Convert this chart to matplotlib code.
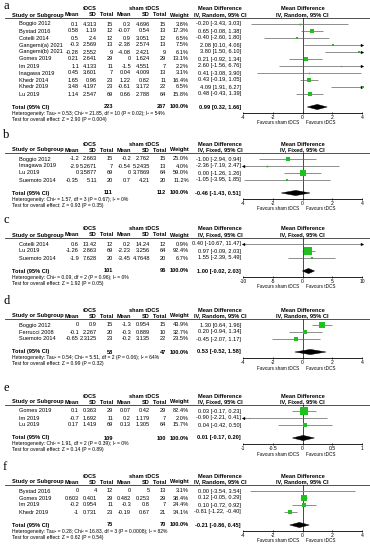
import matplotlib
matplotlib.use("Agg")
import matplotlib.pyplot as plt
from matplotlib.patches import Polygon
import math

plt.rcParams['font.family'] = ['Liberation Sans', 'DejaVu Sans']
plt.rcParams['axes.unicode_minus'] = False

W, H = 370, 550

# ---------------- data ----------------
a_studies = ["Boggio 2012", "Bystad 2016", "Cotelli 2014", "Gangemi(a) 2021", "Gangemi(b) 2021",
             "Gomes 2019", "Im 2019", "Inagawa 2019", "Khedr 2014", "Khedr 2019", "Lu 2019"]
a_mean_t = ["0.1", "0.58", "0.5", "-0.3", "-0.28", "0.21", "1.1", "0.45", "1.65", "3.48", "1.14"]
a_sd_t = ["4.313", "1.19", "2.4", "2.569", "2.552", "2.641", "4.133", "3.601", "0.96", "4.197", "2.547"]
a_n_t = [15, 12, 12, 13, 9, 29, 11, 7, 23, 23, 69]
a_mean_s = ["0.3", "-0.07", "0.9", "-2.38", "-4.08", "0", "-1.5", "0.04", "1.22", "-0.61", "0.66"]
a_sd_s = ["4.696", "0.54", "3.051", "2.574", "2.421", "1.624", "4.551", "4.009", "0.82", "3.172", "2.788"]
a_n_s = [15, 13, 12, 13, 9, 29, 7, 13, 11, 22, 64]
a_weight = [3.8, 17.3, 6.5, 7.5, 6.1, 13.1, 2.2, 3.1, 16.4, 6.5, 15.8]
a_md = [-0.20, 0.65, -0.40, 2.08, 3.80, 0.21, 2.60, 0.41, 0.43, 4.09, 0.48]
a_lo = [-3.43, -0.08, -2.60, 0.10, 1.50, -0.92, -1.56, -3.08, -0.19, 1.91, -0.43]
a_hi = [3.03, 1.38, 1.80, 4.06, 6.10, 1.34, 6.76, 3.90, 1.05, 6.27, 1.39]
a_total = [223, 267, 0.99, 0.32, 1.66]
a_het = "Heterogeneity: Tau² = 0.53; Chi² = 21.85, df = 10 (P = 0.02); I² = 54%"
a_test = "Test for overall effect: Z = 2.90 (P = 0.004)"
a_method = "IV, Random, 95% CI"
a_ticks = [-4, -2, 0, 2, 4]

b_studies = ["Boggio 2012", "Imagawa 2019", "Lu 2019", "Suemoto 2014"]
b_mean_t = ["-1.2", "-2.9", "0", "-0.35"]
b_sd_t = ["2.663", "5.2671", "3.5877", "5.11"]
b_n_t = [15, 7, 69, 20]
b_mean_s = ["-0.2", "-0.54", "0", "0.7"]
b_sd_s = ["2.762", "5.2435", "3.7869", "4.21"]
b_n_s = [15, 13, 64, 20]
b_weight = [25.0, 4.0, 59.0, 11.2]
b_md = [-1.00, -2.36, 0.00, -1.05]
b_lo = [-2.94, -7.19, -1.26, -3.95]
b_hi = [0.94, 2.47, 1.26, 1.85]
b_total = [111, 112, -0.46, -1.43, 0.51]
b_het = "Heterogeneity: Chi² = 1.57, df = 3 (P = 0.67); I² = 0%"
b_test = "Test for overall effect: Z = 0.93 (P = 0.35)"
b_method = "IV, Fixed, 95% CI"
b_ticks = [-4, -2, 0, 2, 4]

c_studies = ["Cotelli 2014", "Lu 2019", "Suemoto 2014"]
c_mean_t = ["0.6", "-1.26", "-1.9"]
c_sd_t = ["13.42", "2.863", "7.628"]
c_n_t = [12, 69, 20]
c_mean_s = ["0.2", "-2.23", "-3.45"]
c_sd_s = ["14.24", "3.256", "4.7648"]
c_n_s = [12, 64, 20]
c_weight = [0.9, 92.4, 6.7]
c_md = [0.40, 0.97, 1.55]
c_lo = [-10.67, -0.09, -2.39]
c_hi = [11.47, 2.03, 5.49]
c_total = [101, 96, 1.00, -0.02, 2.03]
c_het = "Heterogeneity: Chi² = 0.09, df = 2 (P = 0.96); I² = 0%"
c_test = "Test for overall effect: Z = 1.92 (P = 0.05)"
c_method = "IV, Fixed, 95% CI"
c_ticks = [-10, -5, 0, 5, 10]

d_studies = ["Boggio 2012", "Ferrucci 2008", "Suemoto 2014"]
d_mean_t = ["0", "-0.1", "-0.65"]
d_sd_t = ["0.9", "2.267", "2.3125"]
d_n_t = [15, 20, 23]
d_mean_s = ["-1.3", "-0.3", "-0.2"]
d_sd_s = ["0.954", "0.889", "3.135"]
d_n_s = [15, 10, 22]
d_weight = [43.9, 32.7, 23.5]
d_md = [1.30, 0.20, -0.45]
d_lo = [0.64, -0.94, -2.07]
d_hi = [1.96, 1.34, 1.17]
d_total = [58, 47, 0.53, -0.52, 1.58]
d_het = "Heterogeneity: Tau² = 0.54; Chi² = 5.51, df = 2 (P = 0.06); I² = 64%"
d_test = "Test for overall effect: Z = 0.99 (P = 0.32)"
d_method = "IV, Random, 95% CI"
d_ticks = [-4, -2, 0, 2, 4]

e_studies = ["Gomes 2019", "Im 2019", "Lu 2019"]
e_mean_t = ["0.1", "-0.7", "0.17"]
e_sd_t = ["0.363", "1.692", "1.419"]
e_n_t = [29, 11, 69]
e_mean_s = ["0.07", "0.2", "0.13"]
e_sd_s = ["0.42", "1.179", "1.305"]
e_n_s = [29, 7, 64]
e_weight = [82.4, 2.0, 15.7]
e_md = [0.03, -0.90, 0.04]
e_lo = [-0.17, -2.21, -0.42]
e_hi = [0.23, 0.41, 0.50]
e_total = [109, 100, 0.01, -0.17, 0.20]
e_het = "Heterogeneity: Chi² = 1.91, df = 2 (P = 0.39); I² = 0%"
e_test = "Test for overall effect: Z = 0.14 (P = 0.89)"
e_method = "IV, Fixed, 95% CI"
e_ticks = [-1, -0.5, 0, 0.5, 1]

f_studies = ["Bystad 2016", "Gomes 2019", "Im 2019", "Khedr 2019"]
f_mean_t = ["0", "0.603", "-0.2", "-1"]
f_sd_t = ["4", "0.401", "0.954", "0.731"]
f_n_t = [12, 29, 11, 23]
f_mean_s = ["0", "0.482", "-0.3", "-0.19"]
f_sd_s = ["5", "0.253", "0.8", "0.67"]
f_n_s = [13, 29, 7, 21]
f_weight = [3.1, 38.4, 24.4, 34.1]
f_md = [0.00, 0.12, 0.10, -0.81]
f_lo = [-3.54, -0.05, -0.72, -1.22]
f_hi = [3.54, 0.29, 0.92, -0.40]
f_total = [75, 70, -0.21, -0.86, 0.45]
f_het = "Heterogeneity: Tau² = 0.28; Chi² = 16.83, df = 3 (P = 0.0008); I² = 82%"
f_test = "Test for overall effect: Z = 0.62 (P = 0.54)"
f_method = "IV, Random, 95% CI"
f_ticks = [-4, -2, 0, 2, 4]

panel_labels = ["a", "b", "c", "d", "e", "f"]

g = globals()
panels = []
for k in panel_labels:
    panels.append(dict(
        label=k, studies=g[k + "_studies"], mean_t=g[k + "_mean_t"], sd_t=g[k + "_sd_t"],
        n_t=g[k + "_n_t"], mean_s=g[k + "_mean_s"], sd_s=g[k + "_sd_s"], n_s=g[k + "_n_s"],
        weight=g[k + "_weight"], md=g[k + "_md"], lo=g[k + "_lo"], hi=g[k + "_hi"],
        total=g[k + "_total"], het=g[k + "_het"], test=g[k + "_test"],
        method=g[k + "_method"], ticks=g[k + "_ticks"]))

# ---------------- layout (pixels) ----------------
tops = [5, 140, 225, 306, 392, 472]
label_ys = [6, 135, 220, 301, 388, 467]
ROW = 7
FS = 4.1      # table text size (pt)
FSS = 3.6     # footnote size
FSF = 3.3     # favours labels
X_NAME, X_HEAD = 19, 12
X_COLS = [79, 97, 113, 131, 150, 166, 189]
X_CI = 241
PX0, PX1 = 243, 362
GREEN = '#1fc01f'

fig = plt.figure(figsize=(W / 100, H / 100), dpi=100)
tx = fig.add_axes([0, 0, 1, 1])
tx.set_xlim(0, W)
tx.set_ylim(H, 0)
tx.axis('off')


def fmt_ci(m, l, h):
    return f"{m:.2f} [{l:.2f}, {h:.2f}]"


for p, T, ly in zip(panels, tops, label_ys):
    n = len(p['studies'])
    h1, h2, line = T + 4, T + 10, T + 13
    rows = [T + 19 + ROW * i for i in range(n)]
    tot = rows[-1] + 13
    het_y, test_y = tot + 6, tot + 12
    axis_y = tot + 6
    fav_y = tot + 16
    lo, hi = p['ticks'][0], p['ticks'][-1]
    zero_px = PX0 + (PX1 - PX0) * (0 - lo) / (hi - lo)

    tx.text(3, ly, p['label'], fontsize=9, family=['Liberation Serif', 'DejaVu Serif'],
            va='center', ha='left')
    # headers
    tx.text(90, h1, "tDCS", fontsize=FS, weight='bold', ha='center', va='center')
    tx.text(144, h1, "sham tDCS", fontsize=FS, weight='bold', ha='center', va='center')
    tx.text(220, h1, "Mean Difference", fontsize=FS, weight='bold', ha='center', va='center')
    tx.text(220, h2, p['method'], fontsize=FS, weight='bold', ha='center', va='center')
    tx.text(zero_px, h1, "Mean Difference", fontsize=FS, weight='bold', ha='center', va='center')
    tx.text(zero_px, h2, p['method'], fontsize=FS, weight='bold', ha='center', va='center')
    tx.text(X_HEAD, h2, "Study or Subgroup", fontsize=FS, weight='bold', ha='left', va='center')
    for x, s in zip(X_COLS, ["Mean", "SD", "Total", "Mean", "SD", "Total", "Weight"]):
        tx.text(x, h2, s, fontsize=FS, weight='bold', ha='right', va='center')
    tx.plot([5, W], [line, line], color='#333333', lw=0.6)

    for i, y in enumerate(rows):
        tx.text(X_NAME, y, p['studies'][i], fontsize=FS, ha='left', va='center')
        vals = [p['mean_t'][i], p['sd_t'][i], str(p['n_t'][i]), p['mean_s'][i], p['sd_s'][i],
                str(p['n_s'][i]), f"{p['weight'][i]:.1f}%"]
        for x, s in zip(X_COLS, vals):
            tx.text(x, y, s, fontsize=FS, ha='right', va='center')
        tx.text(X_CI, y, fmt_ci(p['md'][i], p['lo'][i], p['hi'][i]), fontsize=FS,
                ha='right', va='center')

    nt, ns, tm, tl, th = p['total']
    tx.text(X_HEAD, tot, "Total (95% CI)", fontsize=FS, weight='bold', ha='left', va='center')
    tx.text(X_COLS[2], tot, str(nt), fontsize=FS, weight='bold', ha='right', va='center')
    tx.text(X_COLS[5], tot, str(ns), fontsize=FS, weight='bold', ha='right', va='center')
    tx.text(X_COLS[6], tot, "100.0%", fontsize=FS, weight='bold', ha='right', va='center')
    tx.text(X_CI, tot, fmt_ci(tm, tl, th), fontsize=FS, weight='bold', ha='right', va='center')
    tx.text(X_HEAD, het_y, p['het'], fontsize=FSS, ha='left', va='center')
    tx.text(X_HEAD, test_y, p['test'], fontsize=FSS, ha='left', va='center')
    tx.text(zero_px - 3, fav_y, "Favours sham tDCS", fontsize=FSF, ha='right', va='center')
    tx.text(zero_px + 3, fav_y, "Favours tDCS", fontsize=FSF, ha='left', va='center')

    # forest axes
    ax = fig.add_axes([PX0 / W, 1 - axis_y / H, (PX1 - PX0) / W, (axis_y - line) / H])
    ax.set_xlim(lo, hi)
    ax.set_ylim(axis_y, line)
    ax.patch.set_alpha(0)
    for s in ['top', 'right', 'left']:
        ax.spines[s].set_visible(False)
    ax.spines['bottom'].set_linewidth(0.6)
    ax.set_yticks([])
    ax.set_xticks(p['ticks'])
    ax.set_xticklabels([f"{t:g}" for t in p['ticks']], fontsize=FSS)
    ax.tick_params(axis='x', length=2, width=0.5, pad=0.6, direction='inout')
    ax.axvline(0, color='black', lw=0.5)
    for i, y in enumerate(rows):
        l = max(p['lo'][i], lo)
        r = min(p['hi'][i], hi)
        ax.plot([l, r], [y, y], color='#606060', lw=0.5, solid_capstyle='butt')
        if p['lo'][i] < lo:
            ax.plot(lo, y, marker='<', ms=2.4, color='black', mew=0, clip_on=False)
        if p['hi'][i] > hi:
            ax.plot(hi, y, marker='>', ms=2.4, color='black', mew=0, clip_on=False)
        ax.plot(p['md'][i], y, marker='s', ms=0.6 * math.sqrt(p['weight'][i]),
                color=GREEN, mec=GREEN, mew=0, clip_on=False)
    ax.add_patch(Polygon([(tl, tot), (tm, tot - 2.6), (th, tot), (tm, tot + 2.6)],
                         closed=True, fc='black', ec='black', lw=0.3))

fig.savefig("out.png", dpi=100)
